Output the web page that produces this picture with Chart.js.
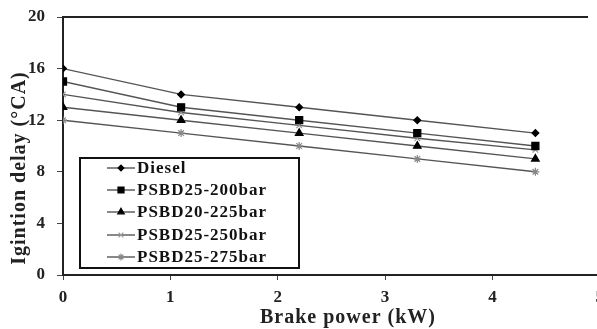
<!DOCTYPE html>
<html>
<head>
<meta charset="utf-8">
<script src="https://cdn.jsdelivr.net/npm/chart.js@4.4.1/dist/chart.umd.min.js"></script>
<style>
html,body{margin:0;padding:0;background:#fff;overflow:hidden;}
#wrap{width:597px;height:329px;position:relative;overflow:hidden;}
</style>
</head>
<body>
<div id="wrap"><canvas id="c" width="606" height="329"></canvas></div>
<script>
const brakePower = [0, 1.1, 2.2, 3.3, 4.4];
const seriesNames = ['Diesel', 'PSBD25-200bar', 'PSBD20-225bar', 'PSBD25-250bar', 'PSBD25-275bar'];
const diesel = [16, 14, 13, 12, 11];
const psbd25_200 = [15, 13, 12, 11, 10];
const psbd20_225 = [13, 12, 11, 10, 9];
const psbd25_250 = [14, 12.6, 11.6, 10.6, 9.7];
const psbd25_275 = [12, 11, 10, 9, 8];
const yTicks = [0, 4, 8, 12, 16, 20];
const xTicks = [0, 1, 2, 3, 4, 5];
const xTitle = 'Brake power (kW)';
const yTitle = 'Igintion delay (°CA)';

const FONT = '"Liberation Serif", "DejaVu Serif", serif';
const styles = [
  {pointStyle:'rectRot', radius:3.4, color:'#000', line:'#555'},
  {pointStyle:'rect', radius:5, color:'#000', line:'#555'},
  {pointStyle:'triangle', radius:4.4, color:'#000', line:'#555'},
  {pointStyle:'crossRot', radius:4, color:'#999', line:'#555'},
  {pointStyle:'star', radius:4, color:'#888', line:'#555'}
];
const values = [diesel, psbd25_200, psbd20_225, psbd25_250, psbd25_275];

const datasets = values.map((v, i) => ({
  label: seriesNames[i],
  data: v.map((y, j) => ({x: brakePower[j], y: y})),
  borderColor: styles[i].line,
  borderWidth: 1.4,
  pointStyle: styles[i].pointStyle,
  pointRadius: styles[i].radius,
  pointBackgroundColor: styles[i].color,
  pointBorderColor: styles[i].color,
  pointBorderWidth: 1.2,
  tension: 0,
  fill: false
}));

const frameAndLegend = {
  id: 'frameAndLegend',
  afterDatasetsDraw(chart) {
    const ctx = chart.ctx;
    const a = chart.chartArea;
    ctx.save();
    ctx.strokeStyle = '#222';
    ctx.lineWidth = 2;
    ctx.beginPath();
    ctx.moveTo(a.left, a.top);
    ctx.lineTo(588, a.top);
    ctx.stroke();
    // axis titles
    ctx.fillStyle = '#222';
    ctx.font = 'bold 20px ' + FONT;
    ctx.letterSpacing = '1px';
    ctx.textAlign = 'center';
    ctx.textBaseline = 'middle';
    ctx.fillText(xTitle, 348, 318);
    ctx.save();
    ctx.translate(20, 168);
    ctx.rotate(-Math.PI / 2);
    ctx.letterSpacing = '1px';
    ctx.fillText(yTitle, 0, 0);
    ctx.restore();
    // legend
    const bx = 80, by = 158, bw = 219, bh = 110;
    ctx.fillStyle = '#fff';
    ctx.fillRect(bx, by, bw, bh);
    ctx.strokeStyle = '#111';
    ctx.lineWidth = 2;
    ctx.strokeRect(bx, by, bw, bh);
    const rowY = [168, 190, 212, 235, 257];
    ctx.font = 'bold 17px ' + FONT;
    ctx.letterSpacing = '1px';
    ctx.textBaseline = 'middle';
    ctx.textAlign = 'left';
    seriesNames.forEach((name, i) => {
      const y = rowY[i];
      ctx.strokeStyle = styles[i].line;
      ctx.lineWidth = 1.4;
      ctx.beginPath();
      ctx.moveTo(107, y);
      ctx.lineTo(135, y);
      ctx.stroke();
      ctx.fillStyle = styles[i].color;
      ctx.strokeStyle = styles[i].color;
      ctx.lineWidth = 1.2;
      Chart.helpers.drawPoint(ctx, {pointStyle: styles[i].pointStyle, radius: styles[i].radius * 0.85, borderWidth: 1.2, rotation: 0}, 121, y);
      ctx.fillStyle = '#111';
      ctx.fillText(name, 137, y + 1);
    });
    ctx.restore();
  }
};

const canvas = document.getElementById('c');
canvas.getContext('2d').letterSpacing = '1px';

new Chart(canvas, {
  type: 'line',
  data: { datasets: datasets },
  options: {
    responsive: false,
    animation: false,
    devicePixelRatio: 1,
    layout: { padding: { top: 17, right: 0, left: 0, bottom: 0 } },
    plugins: { legend: { display: false }, tooltip: { enabled: false } },
    scales: {
      x: {
        type: 'linear',
        min: 0, max: 5,
        afterBuildTicks: (s) => { s.ticks = xTicks.map(v => ({value: v})); },
        afterFit: (s) => { s.height = 54; s.paddingLeft = 0; s.paddingRight = 0; },
        ticks: { color: '#222', font: { family: FONT, size: 17, weight: 'bold' }, padding: 7, maxRotation: 0, autoSkip: false },
        grid: { drawOnChartArea: false, drawTicks: true, tickLength: 5, color: '#444' },
        border: { color: '#222', width: 2 },
        title: { display: false }
      },
      y: {
        min: 0, max: 20,
        afterBuildTicks: (s) => { s.ticks = yTicks.map(v => ({value: v})); },
        afterFit: (s) => { s.width = 63; s.paddingTop = 0; s.paddingBottom = 0; },
        ticks: { color: '#222', font: { family: FONT, size: 17, weight: 'bold' }, padding: 12 },
        grid: { drawOnChartArea: false, drawTicks: true, tickLength: 6, color: '#444' },
        border: { color: '#222', width: 2 },
        title: { display: false }
      }
    }
  },
  plugins: [frameAndLegend]
});
</script>
</body>
</html>
